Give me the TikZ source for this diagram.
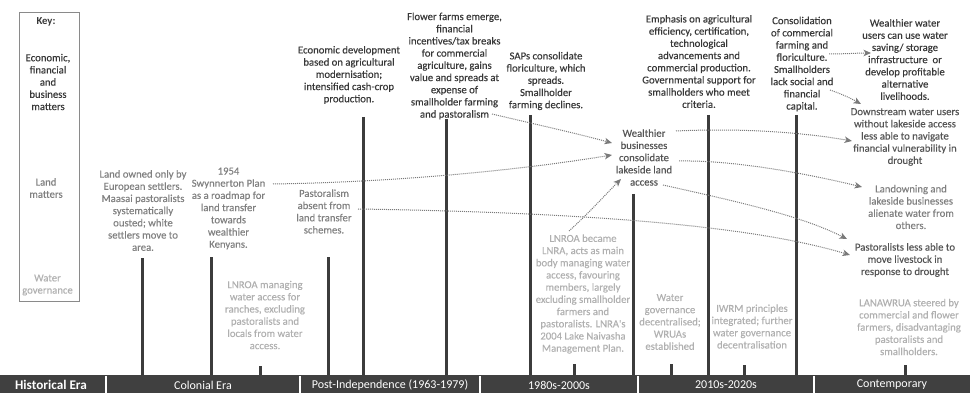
\documentclass[tikz,border=0pt]{standalone}
\usepackage{fontspec}
\setmainfont{Carlito}
\newfontfamily\txtfont{Carlito}[FakeBold=0.3]
\usetikzlibrary{arrows.meta}
\definecolor{econ}{HTML}{383838}
\definecolor{mid}{HTML}{555555}
\definecolor{land}{HTML}{808080}
\definecolor{water}{HTML}{B0B0B0}
\definecolor{barc}{HTML}{3C3C3C}
\definecolor{barbg}{HTML}{404040}
\definecolor{arrc}{HTML}{7A7A7A}
\definecolor{keyline}{HTML}{8A8A8A}
\begin{document}
\begin{tikzpicture}[x=1pt,y=-1pt,
  txt/.style={align=center,inner sep=0pt,font=\txtfont\fontsize{10.7}{12.2}\selectfont},
  econtxt/.style={txt,text=econ},
  midtxt/.style={txt,text=mid},
  landtxt/.style={txt,text=land},
  watertxt/.style={txt,text=water},
  bar/.style={line width=3pt,draw=barc},
  conn/.style={draw=arrc,line width=1pt,dash pattern=on 1pt off 1pt,-{Stealth[length=7.5pt,width=6.5pt,inset=2pt]}},
  era/.style={text=white,inner sep=0pt,font=\fontsize{12}{14}\selectfont},
  sep/.style={draw=white,line width=1.5pt}
]
\useasboundingbox (0,0) rectangle (970,393);

% key
\draw[keyline,line width=0.8pt] (19.5,12.5) rectangle (79.5,301);
\node[econtxt,font=\bfseries\fontsize{10.7}{12.2}\selectfont] (keyt) at (46,22) {Key:};
\node[econtxt] (keye) at (48,82) {Economic,\\financial\\and\\business\\matters};
\node[landtxt] (keyl) at (46,188) {Land\\matters};
\node[watertxt] (keyw) at (47.5,285) {Water\\governance};

% bottom bar
\fill[barbg] (0,375) rectangle (970,393);
\foreach \x in {106,300,480,638,814} \draw[sep] (\x,376) -- (\x,393);
\node[era,font=\bfseries\fontsize{13.2}{15}\selectfont] (eh) at (51,385) {Historical Era};
\node[era] (e1) at (203,385) {Colonial Era};
\node[era] (e2) at (390,385) {Post-Independence (1963-1979)};
\node[era] (e3) at (559,385) {1980s-2000s};
\node[era] (e4) at (726,385) {2010s-2020s};
\node[era] (e5) at (892,385) {Contemporary};

% vertical bars
\draw[bar] (142,258) -- (142,375);
\draw[bar] (211,257) -- (211,375);
\draw[bar] (260,366) -- (260,375);
\draw[bar] (328,257) -- (328,375);
\draw[bar] (363,117) -- (363,375);
\draw[bar] (446,119) -- (446,375);
\draw[bar] (530,115) -- (530,375);
\draw[bar] (574,364) -- (574,375);
\draw[bar] (633,194) -- (633,375);
\draw[bar] (671,364) -- (671,375);
\draw[bar] (708,115) -- (708,375);
\draw[bar] (744,365) -- (744,375);
\draw[bar] (796,115) -- (796,375);
\draw[bar] (905,365) -- (905,375);

% texts
\node[landtxt] (land1) at (143,210.5) {Land owned only by\\European settlers.\\Maasai pastoralists\\systematically\\ousted; white\\settlers move to\\area.};
\node[landtxt] (swyn) at (228.5,208.5) {1954\\Swynnerton Plan\\as a roadmap for\\land transfer\\towards\\wealthier\\Kenyans.};
\node[landtxt] (past) at (324,211.5) {Pastoralism\\absent from\\land transfer\\schemes.};
\node[watertxt] (lnroa) at (265,315) {LNROA managing\\water access for\\ranches, excluding\\pastoralists and\\locals from water\\access.};
\node[econtxt] (econdev) at (349,75) {Economic development\\based on agricultural\\modernisation;\\intensified cash-crop\\production.};
\node[econtxt] (flower) at (454.5,66) {Flower farms emerge,\\financial\\incentives/tax breaks\\for commercial\\agriculture, gains\\value and spreads at\\expense of\\smallholder farming\\and pastoralism};
\node[econtxt] (saps) at (546,81) {SAPs consolidate\\floriculture, which\\spreads.\\Smallholder\\farming declines.};
\node[midtxt] (wbus) at (644,157.5) {Wealthier\\businesses\\consolidate\\lakeside land\\access};
\node[watertxt] (lnra) at (583,294) {LNROA became\\LNRA, acts as main\\body managing water\\access, favouring\\members, largely\\excluding smallholder\\farmers and\\pastoralists. LNRA's\\2004 Lake Naivasha\\Management Plan.};
\node[watertxt] (wgd) at (670,322) {Water\\governance\\decentralised;\\WRUAs\\established};
\node[econtxt] (emph) at (699,61.5) {Emphasis on agricultural\\efficiency, certification,\\technological\\advancements and\\commercial production.\\Governmental support for\\smallholders who meet\\criteria.};
\node[watertxt] (iwrm) at (752,326.5) {IWRM principles\\integrated; further\\water governance\\decentralisation};
\node[econtxt] (consol) at (802,64) {Consolidation\\of commercial\\farming and\\floriculture.\\Smallholders\\lack social and\\financial\\capital.};
\node[econtxt] (wwu) at (905,59.5) {Wealthier water\\users can use water\\saving/ storage\\infrastructure\ \ or\\develop profitable\\alternative\\livelihoods.};
\node[midtxt] (down) at (905,137) {Downstream water users\\without lakeside access\\less able to navigate\\financial vulnerability in\\drought};
\node[landtxt] (landown) at (911,207) {Landowning and\\lakeside businesses\\alienate water from\\others.};
\node[midtxt] (pastl) at (905,260) {Pastoralists less able to\\move livestock in\\response to drought};
\node[watertxt] (lanaw) at (909,327) {LANAWRUA steered by\\commercial and flower\\farmers, disadvantaging\\pastoralists and\\smallholders.};

% connector end points
\coordinate (a1s) at (492,114);  \coordinate (a1e) at (612,143);
\coordinate (a2s) at (273,184);  \coordinate (a2e) at (612,155);
\coordinate (a3s) at (358,209);  \coordinate (a3e) at (850,255);
\coordinate (a4s) at (569,231);  \coordinate (a4e) at (621,179);
\coordinate (a5s) at (676,131);  \coordinate (a5e) at (852,141);
\coordinate (a6s) at (679,161);  \coordinate (a6e) at (862,187);
\coordinate (a7s) at (663,185);  \coordinate (a7e) at (847,239);
\coordinate (a8s) at (829,54);   \coordinate (a8e) at (871,53);
\coordinate (a9s) at (830,90);   \coordinate (a9e) at (861,104);

\draw[conn] (a1s) .. controls (530,123) and (575,133) .. (a1e);
\draw[conn] (a2s) .. controls (400,182) and (520,170) .. (a2e);
\draw[conn] (a3s) .. controls (550,212) and (740,222) .. (a3e);
\draw[conn] (a4s) .. controls (590,212) and (605,195) .. (a4e);
\draw[conn] (a5s) .. controls (740,128) and (800,132) .. (a5e);
\draw[conn] (a6s) .. controls (730,160) and (800,172) .. (a6e);
\draw[conn] (a7s) .. controls (730,200) and (800,215) .. (a7e);
\draw[conn] (a8s) .. controls (845,54) and (857,53) .. (a8e);
\draw[conn] (a9s) .. controls (842,94) and (852,99) .. (a9e);
\end{tikzpicture}
\end{document}
